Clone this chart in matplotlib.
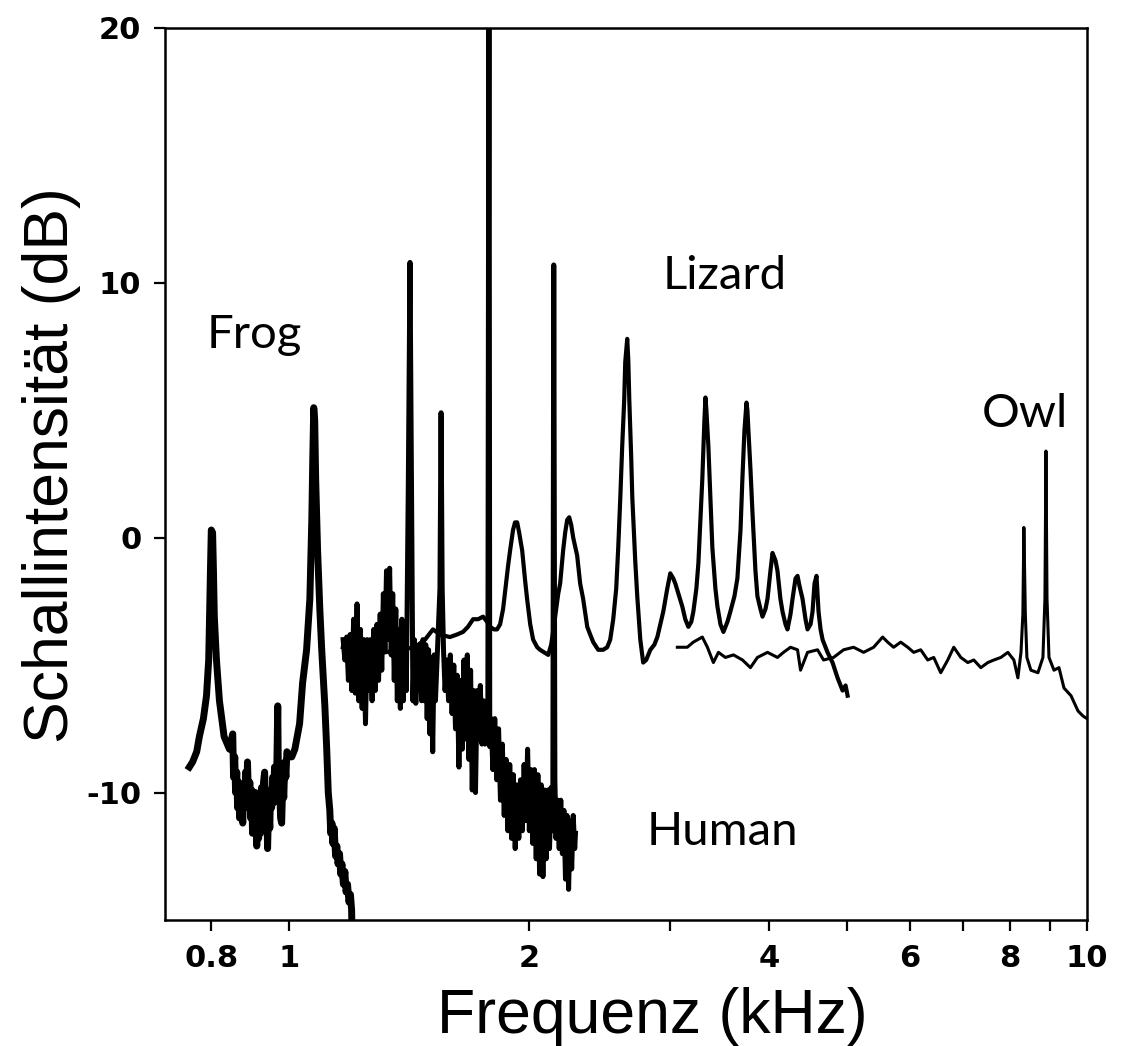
import matplotlib.pyplot as plt
from matplotlib.ticker import NullLocator

plt.rcParams['axes.unicode_minus'] = False
plt.rcParams['font.family'] = ['Liberation Sans', 'DejaVu Sans']
plt.rcParams['font.weight'] = 'bold'
plt.rcParams['xtick.labelsize'] = 22
plt.rcParams['ytick.labelsize'] = 22

# Spektren (Frequenz in kHz, Pegel in dB)
frog_khz = [0.751, 0.758, 0.767, 0.773, 0.782, 0.789, 0.794, 0.796, 0.798, 0.800,
            0.803, 0.805, 0.807, 0.812, 0.819, 0.830, 0.843, 0.851,
            0.853, 0.856, 0.858, 0.861, 0.863, 0.866, 0.868, 0.871, 0.873, 0.876,
            0.878, 0.881, 0.883, 0.886, 0.888, 0.891, 0.894, 0.896, 0.899, 0.901,
            0.904, 0.906, 0.909, 0.912, 0.914, 0.917, 0.920, 0.922, 0.925, 0.928,
            0.930, 0.933, 0.936, 0.938, 0.941, 0.944, 0.947, 0.949, 0.952, 0.955,
            0.958, 0.960, 0.963, 0.966, 0.969, 0.971, 0.974, 0.977, 0.980, 0.983,
            0.986, 0.989, 0.992, 0.995, 1.001, 1.009, 1.018, 1.032, 1.041, 1.053,
            1.063, 1.069, 1.072, 1.075, 1.078, 1.081, 1.087, 1.094, 1.100, 1.110,
            1.116, 1.121, 1.126, 1.129, 1.133, 1.136, 1.140, 1.145, 1.149, 1.153,
            1.158, 1.162, 1.166, 1.171, 1.176, 1.180, 1.185, 1.190, 1.195, 1.199,
            1.200]
frog_db = [-9.0, -8.8, -8.4, -7.8, -7.1, -6.2, -4.8, -3.1, -1.3, 0.3,
           0.2, -1.3, -3.1, -4.8, -6.4, -7.8, -8.3, -7.7,
           -9.4, -8.6, -10.0, -9.2, -10.6, -9.6, -11.0, -9.8, -10.4, -11.2,
           -9.8, -10.6, -9.2, -10.2, -8.8, -10.5, -9.6, -11.0, -9.9, -11.6,
           -10.2, -11.4, -10.0, -12.1, -10.6, -11.8, -10.2, -11.6, -9.8, -11.2,
           -9.6, -9.2, -11.0, -10.0, -12.2, -10.4, -11.4, -9.9, -10.6, -9.4,
           -10.4, -9.0, -10.2, -9.4, -6.6, -9.8, -9.6, -11.0, -11.2, -9.6,
           -10.2, -8.8, -9.4, -8.4, -8.6, -8.6, -8.3, -7.3, -5.7, -4.4,
           -2.4, 0.7, 3.1, 5.1, 4.6, 2.3, -0.5, -2.8, -4.4, -6.6,
           -8.3, -10.0, -10.7, -11.6, -11.2, -12.0, -11.4, -12.5, -12.1, -12.8,
           -12.4, -13.2, -12.8, -13.6, -13.1, -13.9, -13.6, -14.3, -14.0, -14.6,
           -15.2]

human_khz = [1.170, 1.176, 1.182, 1.188, 1.194, 1.200, 1.206, 1.212, 1.218, 1.224,
             1.230, 1.236, 1.242, 1.248, 1.254, 1.260, 1.266, 1.272, 1.278, 1.284,
             1.290, 1.296, 1.302, 1.308, 1.314, 1.320, 1.326, 1.332, 1.338, 1.344,
             1.350, 1.356, 1.362, 1.368, 1.374, 1.380, 1.386, 1.392, 1.398, 1.404,
             1.412, 1.419, 1.425, 1.431, 1.437, 1.443, 1.449, 1.455, 1.461, 1.467,
             1.473, 1.479, 1.485, 1.491, 1.497, 1.503, 1.509, 1.515, 1.521, 1.527,
             1.547, 1.552, 1.557, 1.563, 1.570, 1.578, 1.586, 1.594, 1.602, 1.610,
             1.618, 1.626, 1.634, 1.642, 1.650, 1.658, 1.666, 1.674, 1.682, 1.690,
             1.698, 1.706, 1.714, 1.722, 1.730, 1.738, 1.746, 1.754, 1.762, 1.770,
             1.776, 1.782, 1.786, 1.793, 1.802, 1.812, 1.822, 1.832, 1.842, 1.852,
             1.862, 1.872, 1.882, 1.892, 1.902, 1.912, 1.922, 1.932, 1.942, 1.952,
             1.962, 1.972, 1.982, 1.992, 2.002, 2.012, 2.022, 2.032, 2.042, 2.052,
             2.062, 2.072, 2.082, 2.092, 2.102, 2.112, 2.122, 2.132, 2.142, 2.148,
             2.155, 2.162, 2.172, 2.182, 2.192, 2.202, 2.212, 2.222, 2.232, 2.242,
             2.252, 2.262, 2.272, 2.282, 2.287]
human_db = [-4.0, -4.8, -3.9, -5.6, -3.8, -6.0, -3.2, -6.1, -2.6, -6.4,
            -3.6, -6.7, -4.0, -7.3, -4.0, -6.0, -4.0, -6.4, -3.6, -6.0,
            -3.4, -5.6, -3.0, -5.2, -2.2, -4.4, -1.3, -4.0, -1.2, -4.6,
            -2.2, -5.6, -2.8, -6.4, -3.6, -6.7, -3.2, -6.4, -3.4, -6.0,
            2.0, 10.8, 2.0, -6.4, -4.0, -6.5, -4.4, -6.0, -4.2, -6.4,
            -4.0, -6.4, -4.2, -7.1, -4.4, -7.7, -4.8, -8.4, -4.6, -6.4,
            -2.0, 4.9, -2.0, -4.4, -6.0, -4.8, -6.4, -4.6, -6.9, -5.0,
            -7.5, -5.4, -9.0, -5.6, -8.3, -4.8, -7.9, -4.6, -8.7, -5.2,
            -9.9, -6.0, -10.0, -6.0, -7.9, -5.8, -8.1, -6.4, -8.1, -7.1,
            -7.9, 25.0, -8.2, -7.1, -9.1, -7.1, -9.5, -7.5, -10.3, -8.1,
            -10.9, -8.7, -11.5, -8.9, -11.8, -9.3, -12.2, -9.7, -11.8, -9.5,
            -11.5, -8.9, -11.1, -8.3, -11.5, -9.1, -12.0, -9.1, -12.6, -9.3,
            -13.2, -9.7, -13.3, -9.9, -12.6, -9.9, -12.2, -9.8, -11.5, 10.7,
            -9.5, -11.8, -10.3, -12.2, -10.3, -12.4, -10.7, -13.4, -10.9, -13.8,
            -11.1, -13.0, -10.9, -12.2, -11.6]

lizard_khz = [1.169, 1.210, 1.264, 1.320, 1.378, 1.439, 1.482, 1.516, 1.547, 1.592,
              1.625, 1.653, 1.677, 1.702, 1.727, 1.752, 1.772, 1.788, 1.808, 1.824,
              1.840, 1.856, 1.872, 1.883, 1.894, 1.910, 1.921, 1.933, 1.944, 1.961,
              1.978, 1.989, 2.007, 2.024, 2.048, 2.065, 2.089, 2.114, 2.132, 2.144,
              2.163, 2.176, 2.188, 2.207, 2.220, 2.233, 2.246, 2.259, 2.272, 2.298,
              2.318, 2.338, 2.366, 2.386, 2.407, 2.442, 2.477, 2.506, 2.528, 2.550,
              2.572, 2.587, 2.602, 2.617, 2.632, 2.640, 2.655, 2.663, 2.671, 2.686,
              2.694, 2.717, 2.733, 2.757, 2.780, 2.804, 2.838, 2.871, 2.896, 2.921,
              2.946, 2.980, 3.006, 3.032, 3.050, 3.077, 3.112, 3.139, 3.167, 3.194,
              3.213, 3.241, 3.260, 3.279, 3.297, 3.317, 3.327, 3.336, 3.355, 3.375,
              3.394, 3.424, 3.444, 3.474, 3.504, 3.545, 3.575, 3.617, 3.648, 3.681,
              3.701, 3.723, 3.745, 3.755, 3.766, 3.788, 3.810, 3.843, 3.865, 3.899,
              3.922, 3.956, 3.979, 4.013, 4.037, 4.072, 4.095, 4.130, 4.155, 4.191,
              4.215, 4.252, 4.277, 4.314, 4.339, 4.364, 4.402, 4.440, 4.466, 4.505,
              4.531, 4.557, 4.583, 4.610, 4.637, 4.664, 4.731, 4.800, 4.870, 4.941,
              4.984, 5.013]
lizard_db = [-4.3, -4.4, -4.6, -4.5, -4.4, -4.3, -4.0, -3.6, -3.8, -3.9,
             -3.8, -3.7, -3.5, -3.2, -3.2, -3.1, -3.3, -3.5, -3.6, -3.6,
             -3.4, -2.8, -1.8, -1.1, -0.5, 0.3, 0.6, 0.6, 0.2, -0.5,
             -1.7, -2.4, -3.4, -4.0, -4.3, -4.4, -4.5, -4.6, -4.2, -3.7,
             -2.8, -2.2, -1.8, -0.5, 0.2, 0.7, 0.8, 0.5, 0.0, -0.7,
             -1.8, -2.4, -3.5, -3.8, -4.1, -4.4, -4.4, -4.3, -4.0, -3.2,
             -2.0, -0.4, 1.5, 3.6, 5.4, 6.9, 7.8, 7.0, 5.4, 3.1,
             1.6, -0.9, -2.3, -4.0, -4.9, -4.8, -4.4, -4.2, -3.9, -3.4,
             -2.9, -2.0, -1.4, -1.6, -1.8, -2.2, -2.7, -3.2, -3.5, -3.3,
             -2.9, -2.0, -1.0, 0.7, 2.3, 4.6, 5.5, 5.0, 3.6, 1.5,
             -0.4, -2.0, -2.7, -3.4, -3.7, -3.3, -2.9, -2.3, -1.6, 0.3,
             2.3, 4.2, 5.3, 5.0, 4.2, 2.7, 1.0, -1.3, -2.3, -2.8,
             -3.1, -2.8, -2.4, -1.3, -0.6, -0.9, -1.3, -2.4, -2.9, -3.4,
             -3.6, -3.0, -2.4, -1.6, -1.5, -1.9, -2.4, -3.2, -3.6, -3.4,
             -2.9, -1.8, -1.5, -2.9, -3.6, -4.0, -4.5, -4.9, -5.5, -6.0,
             -5.8, -6.2]

owl_khz = [3.068, 3.157, 3.212, 3.297, 3.346, 3.404, 3.454, 3.524, 3.607, 3.702,
           3.788, 3.865, 3.979, 4.095, 4.167, 4.252, 4.339, 4.377, 4.466, 4.597,
           4.677, 4.814, 4.955, 5.100, 5.250, 5.404, 5.546, 5.627, 5.725, 5.843,
           5.962, 6.066, 6.190, 6.316, 6.427, 6.558, 6.692, 6.809, 6.949, 7.090,
           7.214, 7.362, 7.512, 7.644, 7.800, 7.959, 8.098, 8.192, 8.266, 8.311,
           8.335, 8.370, 8.408, 8.505, 8.680, 8.806, 8.857, 8.883, 8.910, 8.961,
           9.091, 9.223, 9.357, 9.548, 9.744, 9.885, 10.0]
owl_db = [-4.3, -4.3, -4.1, -3.9, -4.3, -4.9, -4.5, -4.7, -4.6, -4.8,
          -5.1, -4.7, -4.5, -4.7, -4.5, -4.3, -4.4, -5.2, -4.5, -4.4,
          -4.8, -4.7, -4.4, -4.3, -4.5, -4.3, -3.9, -4.1, -4.3, -4.1,
          -4.3, -4.5, -4.4, -4.8, -4.7, -5.3, -4.8, -4.3, -4.7, -4.9,
          -4.8, -5.1, -4.9, -4.8, -4.7, -4.5, -4.8, -5.5, -4.5, -3.0,
          0.4, -3.0, -4.7, -5.2, -5.3, -4.7, -2.4, 3.4, -2.4, -4.7,
          -5.2, -5.1, -5.9, -6.2, -6.8, -7.0, -7.1]

x_ticks = [0.8, 1, 2, 3, 4, 5, 6, 7, 8, 9, 10]
x_ticklabels = ['0.8', '1', '2', '', '4', '', '6', '', '8', '', '10']
y_ticks = [-10, 0, 10, 20]

fig = plt.figure(figsize=(11.24, 10.46), dpi=100)
ax = fig.add_axes([0.1468, 0.1205, 0.8203, 0.8528])
ax.set_xscale('log')

ax.plot(owl_khz, owl_db, color='black', lw=2.2)
ax.plot(lizard_khz, lizard_db, color='black', lw=3.0)
ax.plot(human_khz, human_db, color='black', lw=3.6)
ax.plot(frog_khz, frog_db, color='black', lw=5.0)

ax.set_xlim(0.7, 10)
ax.set_ylim(-15, 20)

ax.set_xticks(x_ticks)
ax.set_xticklabels(x_ticklabels)
ax.xaxis.set_minor_locator(NullLocator())
ax.set_yticks(y_ticks)
ax.tick_params(axis='both', direction='out', length=8, width=1.6, pad=9, colors='black',
               labelfontfamily='DejaVu Sans')

for sp in ax.spines.values():
    sp.set_linewidth(1.8)

ann = dict(transform=ax.transAxes, fontsize=34, family=['Lato', 'DejaVu Sans'],
           fontweight='normal', ha='left', va='baseline')
ax.text(0.0456, 0.641, 'Frog', **ann)
ax.text(0.540, 0.7074, 'Lizard', **ann)
ax.text(0.5228, 0.0841, 'Human', **ann)
ax.text(0.886, 0.5527, 'Owl', **ann)

fig.text(0.580, 0.0124, 'Frequenz (kHz)', fontsize=45, fontweight='normal',
         ha='center', va='baseline')
fig.text(0.046, 0.555, 'Schallintensität (dB)', fontsize=45, fontweight='normal',
         rotation=90, ha='center', va='center')

fig.savefig('out.png', dpi=100)
